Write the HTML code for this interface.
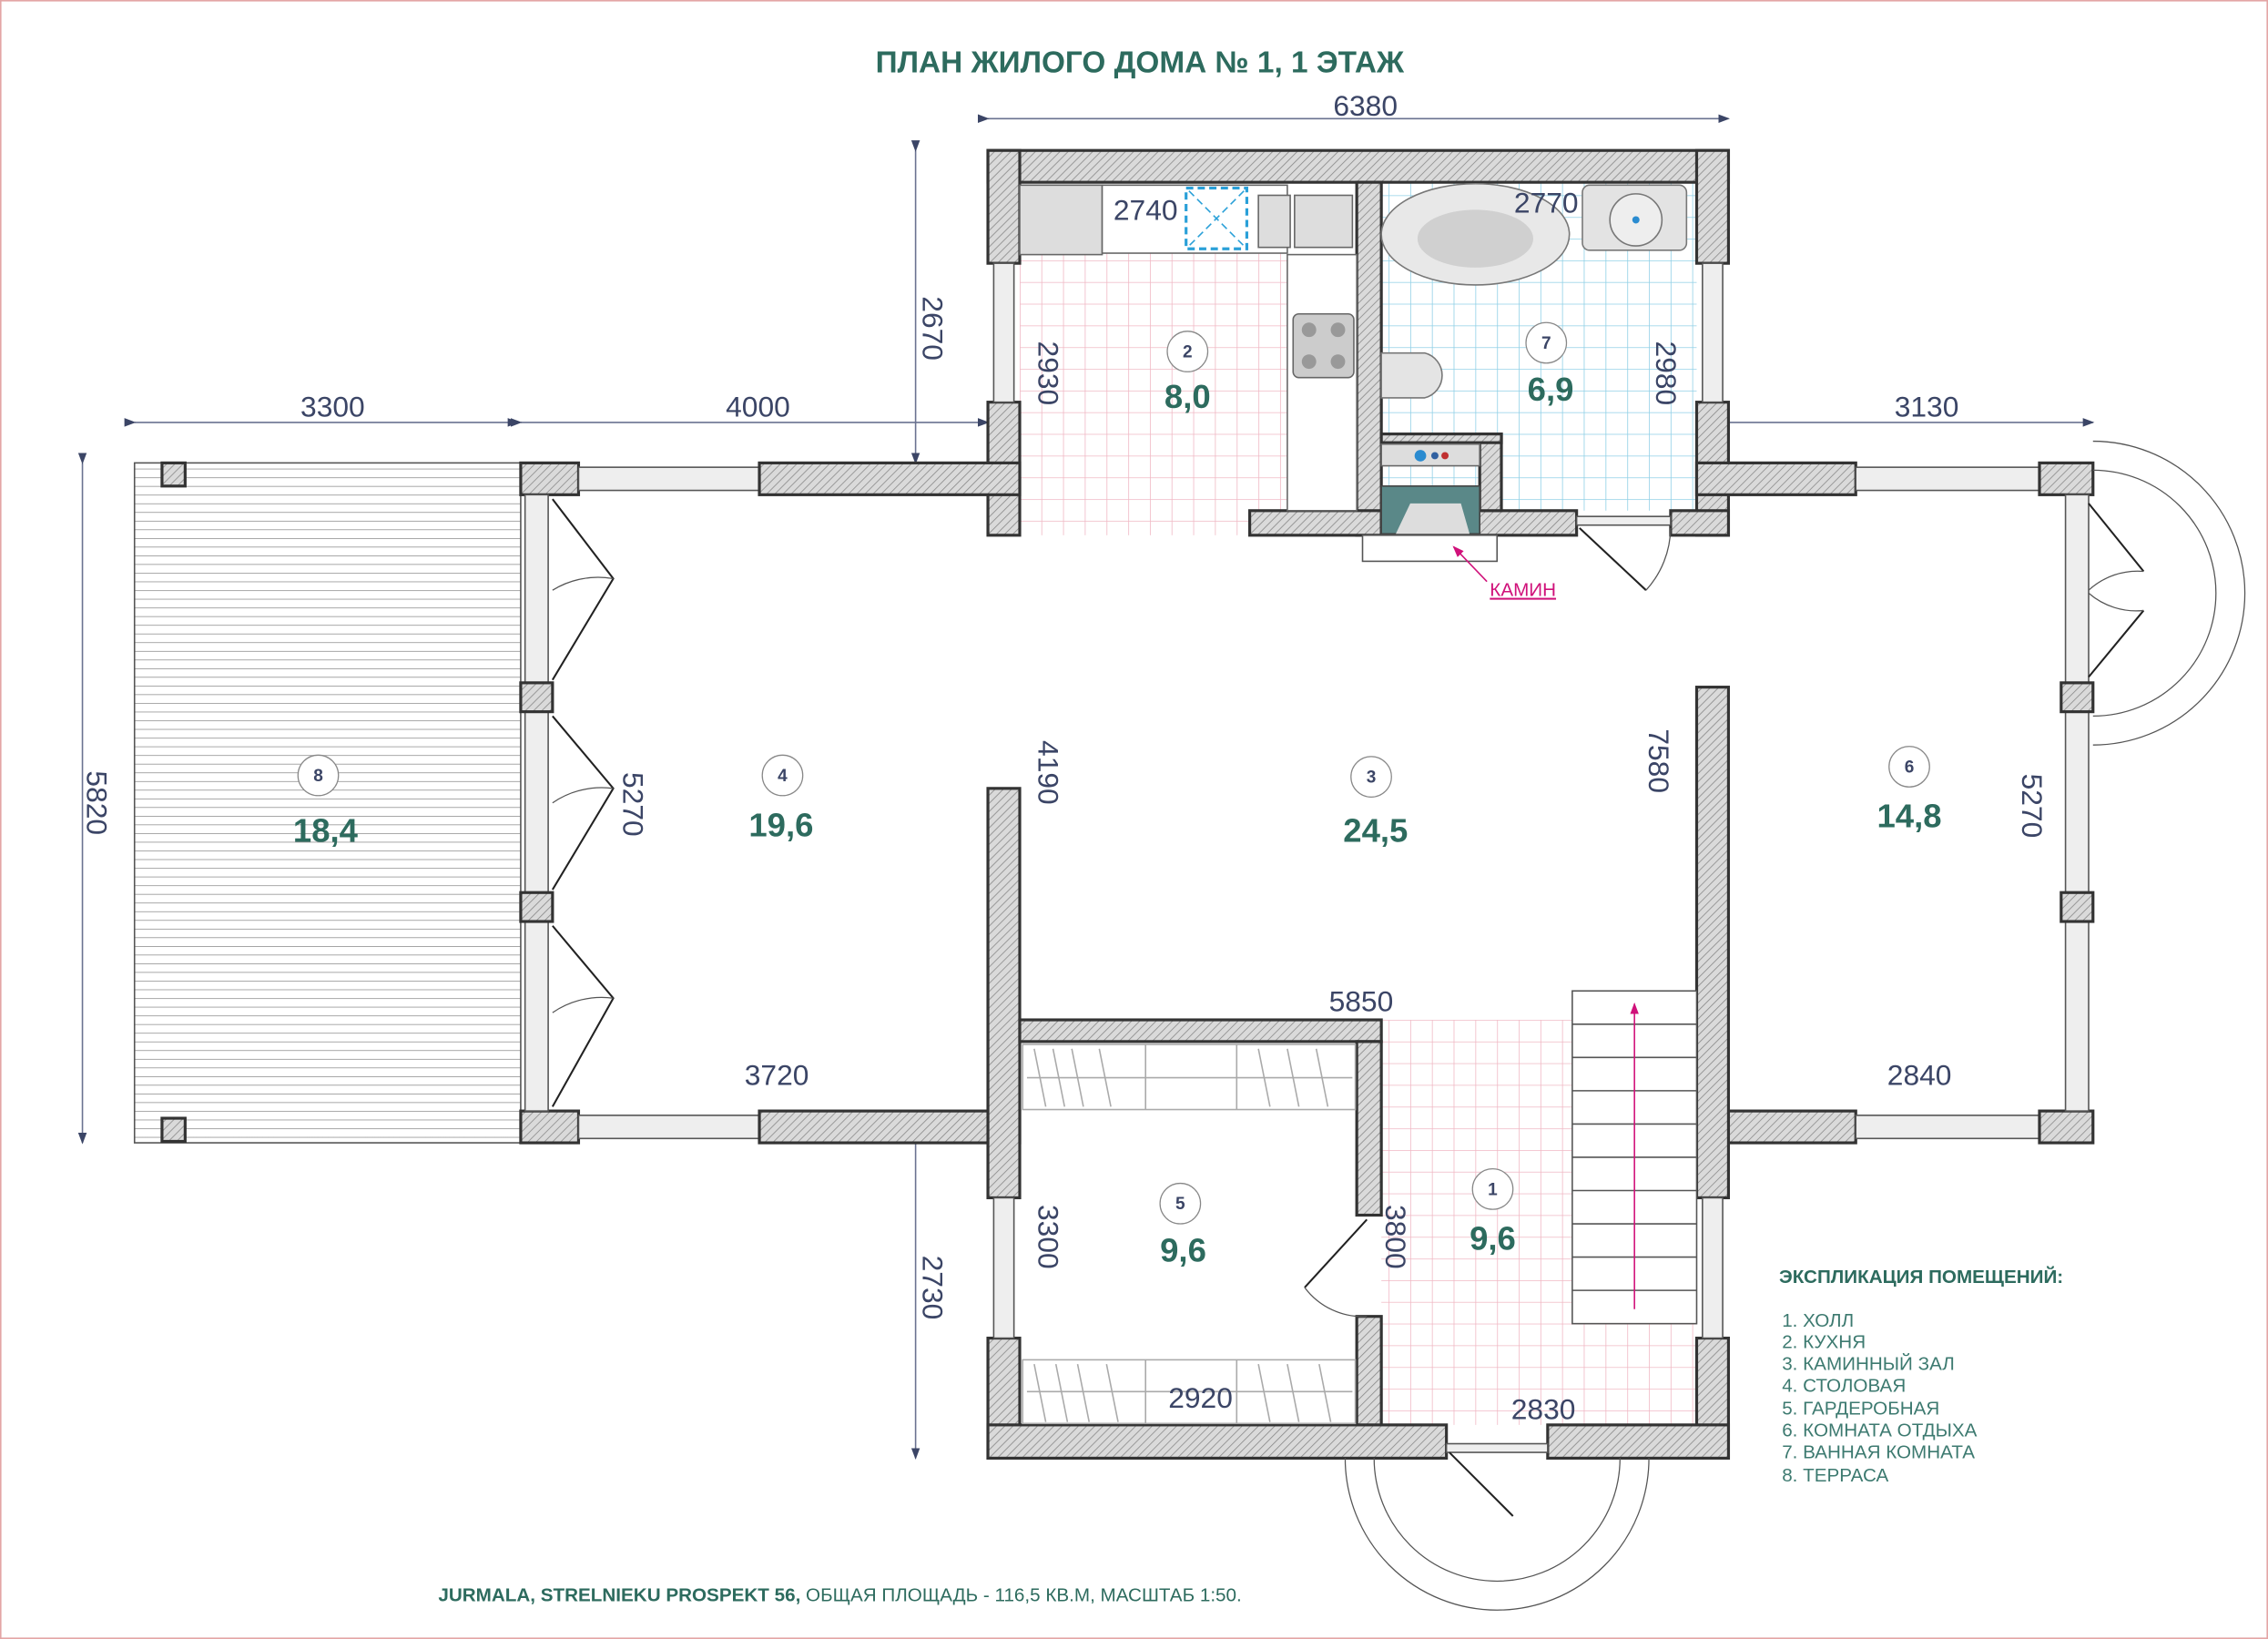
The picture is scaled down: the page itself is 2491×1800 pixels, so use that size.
<!DOCTYPE html>
<html><head><meta charset="utf-8"><style>
html,body{margin:0;padding:0;background:#fff}
svg{display:block}
text{font-family:"Liberation Sans",sans-serif}
.d{fill:#3b4566;font-size:20px;font-family:"Liberation Sans Narrow","Liberation Sans",sans-serif}
.a{fill:#2d6b5e;font-size:23px;font-weight:bold}
.n{fill:#3b4566;font-size:12px;font-weight:bold}
.w{fill:url(#h);stroke:#333;stroke-width:2}
.dl{stroke:#6a7290;stroke-width:1}
.lg{fill:#3d7a70;font-size:13px}
</style></head><body>
<svg width="2491" height="1800" viewBox="0 0 1568 1133" preserveAspectRatio="none" xmlns="http://www.w3.org/2000/svg">
<defs>
<pattern id="h" width="4" height="4" patternUnits="userSpaceOnUse" patternTransform="rotate(45)">
<rect width="4" height="4" fill="#dadada"/><line x1="0" y1="0" x2="0" y2="4" stroke="#888" stroke-width="1"/></pattern>
<pattern id="pg" width="15" height="15" patternUnits="userSpaceOnUse"><rect width="15" height="15" fill="#fff"/><path d="M0 0H15M0 0V15" stroke="#f0b8c4" stroke-width="1"/></pattern>
<pattern id="bg" width="15" height="15" patternUnits="userSpaceOnUse"><rect width="15" height="15" fill="#fff"/><path d="M0 0H15M0 0V15" stroke="#8fd0e6" stroke-width="1"/></pattern>
<pattern id="tl" width="10" height="6" patternUnits="userSpaceOnUse"><rect width="10" height="6" fill="#fff"/><path d="M0 0H10" stroke="#777" stroke-width="0.8"/></pattern>
<marker id="ar" markerWidth="8" markerHeight="8" refX="7" refY="4" orient="auto"><path d="M0 1L8 4L0 7Z" fill="#3b4566"/></marker>
<marker id="am" markerWidth="8" markerHeight="8" refX="7" refY="4" orient="auto"><path d="M0 1L8 4L0 7Z" fill="#d0117a"/></marker>
</defs>
<rect x="0.5" y="0.5" width="1567" height="1132" fill="#fff" stroke="#e3a5a5"/>
<text x="788" y="50" text-anchor="middle" style="fill:#2d6b5e;font-size:21px;font-weight:bold">ПЛАН ЖИЛОГО ДОМА № 1, 1 ЭТАЖ</text>

<rect x="705" y="175" width="185" height="195" fill="url(#pg)"/>
<rect x="955" y="126" width="218" height="227" fill="url(#bg)"/>
<rect x="955" y="705" width="218" height="280" fill="url(#pg)"/>
<rect x="93" y="320" width="267" height="470" fill="url(#tl)" stroke="#555"/>
<rect x="112" y="320" width="16" height="16" class="w"/>
<rect x="112" y="773" width="16" height="16" class="w"/>

<g class="dl" fill="none">
<line x1="683" y1="82" x2="1195" y2="82" marker-start="url(#ar)" marker-end="url(#ar)"/>
<line x1="93" y1="292" x2="358" y2="292" marker-start="url(#ar)" marker-end="url(#ar)"/>
<line x1="360" y1="292" x2="683" y2="292" marker-start="url(#ar)" marker-end="url(#ar)"/>
<line x1="1195" y1="292" x2="1447" y2="292" marker-start="url(#ar)" marker-end="url(#ar)"/>
<line x1="57" y1="320" x2="57" y2="790" marker-start="url(#ar)" marker-end="url(#ar)"/>
<line x1="633" y1="104" x2="633" y2="320" marker-start="url(#ar)" marker-end="url(#ar)"/>
<line x1="633" y1="790" x2="633" y2="1008" marker-start="url(#ar)" marker-end="url(#ar)"/>
</g>

<rect class="w" x="683" y="104" width="512" height="22"/>
<rect class="w" x="683" y="104" width="22" height="78"/>
<rect class="w" x="683" y="278" width="22" height="92"/>
<rect class="w" x="1173" y="104" width="22" height="78"/>
<rect class="w" x="1173" y="278" width="22" height="92"/>
<rect x="687" y="182" width="14" height="96" fill="#eee" stroke="#555"/>
<rect x="1177" y="182" width="14" height="96" fill="#eee" stroke="#555"/>
<rect class="w" x="938" y="126" width="17" height="244"/>
<rect class="w" x="864" y="353" width="91" height="17"/>
<rect class="w" x="955" y="353" width="135" height="17"/>
<rect class="w" x="1023" y="300" width="15" height="53"/>
<rect class="w" x="955" y="300" width="83" height="6"/>
<rect class="w" x="1155" y="353" width="40" height="17"/>
<rect class="w" x="360" y="320" width="40" height="22"/>
<rect x="400" y="323" width="125" height="16" fill="#eee" stroke="#555"/>
<rect class="w" x="525" y="320" width="180" height="22"/>
<rect class="w" x="1173" y="320" width="110" height="22"/>
<rect x="1283" y="323" width="127" height="16" fill="#eee" stroke="#555"/>
<rect class="w" x="1410" y="320" width="37" height="22"/>
<rect class="w" x="360" y="768" width="40" height="22"/>
<rect x="400" y="771" width="125" height="16" fill="#eee" stroke="#555"/>
<rect class="w" x="525" y="768" width="180" height="22"/>
<rect class="w" x="1173" y="768" width="110" height="22"/>
<rect x="1283" y="771" width="127" height="16" fill="#eee" stroke="#555"/>
<rect class="w" x="1410" y="768" width="37" height="22"/>
<rect x="363" y="342" width="16" height="426" fill="#eee" stroke="#555"/>
<rect class="w" x="360" y="472" width="22" height="20"/>
<rect class="w" x="360" y="617" width="22" height="20"/>
<rect x="1428" y="342" width="16" height="426" fill="#eee" stroke="#555"/>
<rect class="w" x="1425" y="472" width="22" height="20"/>
<rect class="w" x="1425" y="617" width="22" height="20"/>
<rect class="w" x="683" y="545" width="22" height="283"/>
<rect class="w" x="683" y="925" width="22" height="83"/>
<rect x="687" y="828" width="14" height="97" fill="#eee" stroke="#555"/>
<rect class="w" x="1173" y="475" width="22" height="353"/>
<rect class="w" x="1173" y="925" width="22" height="83"/>
<rect x="1177" y="828" width="14" height="97" fill="#eee" stroke="#555"/>
<rect class="w" x="705" y="705" width="250" height="15"/>
<rect class="w" x="938" y="720" width="17" height="120"/>
<rect class="w" x="938" y="910" width="17" height="80"/>
<rect class="w" x="683" y="985" width="317" height="23"/>
<rect class="w" x="1070" y="985" width="125" height="23"/>
<rect x="1000" y="998" width="70" height="6" fill="#eee" stroke="#555"/>
<rect x="1090" y="357" width="65" height="6" fill="#eee" stroke="#555"/>

<g fill="none" stroke="#222" stroke-width="1.3">
<path d="M382 345L424 400L382 470M382 495L424 545L382 615M382 640L424 690L382 765"/>
<path d="M1444 348L1482 395M1444 468L1482 422"/>
<path d="M1092 365L1138 408"/>
<path d="M945 843L902 890"/>
<path d="M1002 1004L1046 1048"/>
</g>
<g fill="none" stroke="#555" stroke-width="0.8">
<path d="M1447 305A105 105 0 0 1 1447 515"/>
<path d="M1447 325A85 85 0 0 1 1447 495"/>
<path d="M930 1008A105 105 0 0 0 1140 1008"/>
<path d="M950 1008A85 85 0 0 0 1120 1008"/>
<path d="M1155 365A65 65 0 0 1 1138 408"/>
<path d="M902 890A50 50 0 0 0 945 910"/>
<path d="M424 400A60 60 0 0 0 382 408M424 545A60 60 0 0 0 382 555M424 690A60 60 0 0 0 382 700"/>
<path d="M1482 395A50 50 0 0 0 1444 408M1482 422A50 50 0 0 1 1444 410"/>
</g>

<rect x="705" y="128" width="57" height="48" fill="#ddd" stroke="#666"/>
<rect x="762" y="128" width="128" height="47" fill="#fff" stroke="#666"/>
<rect x="820" y="130" width="42" height="42" fill="none" stroke="#2aa0d8" stroke-width="2" stroke-dasharray="5 3"/>
<path d="M822 132L860 170M860 132L822 170" stroke="#2aa0d8" stroke-dasharray="5 3"/>
<rect x="870" y="135" width="22" height="36" fill="#ddd" stroke="#666"/>
<rect x="895" y="135" width="40" height="36" fill="#ddd" stroke="#666"/>
<rect x="890" y="176" width="48" height="177" fill="#fff" stroke="#666"/>
<rect x="894" y="217" width="42" height="44" rx="4" fill="#ccc" stroke="#666"/>
<g fill="#999"><circle cx="905" cy="228" r="5"/><circle cx="925" cy="228" r="5"/><circle cx="905" cy="250" r="5"/><circle cx="925" cy="250" r="5"/></g>
<ellipse cx="1020" cy="162" rx="65" ry="35" fill="#e8e8e8" stroke="#777"/>
<ellipse cx="1020" cy="165" rx="40" ry="20" fill="#d0d0d0"/>
<rect x="1094" y="128" width="72" height="45" rx="5" fill="#e3e3e3" stroke="#777"/>
<circle cx="1131" cy="152" r="18" fill="#eee" stroke="#777"/>
<circle cx="1131" cy="152" r="2.5" fill="#2a8bd0"/>
<path d="M955 244H985A16 16 0 0 1 985 275H955Z" fill="#e4e4e4" stroke="#777"/>
<rect x="955" y="307" width="68" height="15" fill="#ddd" stroke="#666"/>
<circle cx="982" cy="315" r="4" fill="#2a8bd0"/><circle cx="992" cy="315" r="2.5" fill="#3060a0"/><circle cx="999" cy="315" r="2.5" fill="#c03030"/>
<rect x="955" y="336" width="68" height="33" fill="#5a8888" stroke="#444"/>
<path d="M965 369L975 348H1010L1016 369Z" fill="#ddd"/>
<rect x="942" y="370" width="93" height="18" fill="#fff" stroke="#555"/>
<line x1="1028" y1="402" x2="1005" y2="378" stroke="#d0117a" marker-end="url(#am)"/>
<text x="1030" y="412" style="fill:#d0117a;font-size:13px;text-decoration:underline">КАМИН</text>
<g fill="none" stroke="#aaa">
<rect x="707" y="722" width="230" height="45"/><rect x="707" y="940" width="230" height="44"/>
<path d="M710 745H935M710 962H935M792 722V767M855 722V767M792 940V984M855 940V984"/>
<path d="M715 725l8 40M728 725l8 40M741 725l8 40M760 725l8 40M870 725l8 40M890 725l8 40M910 725l8 40M715 943l8 40M730 943l8 40M745 943l8 40M765 943l8 40M870 943l8 40M890 943l8 40M912 943l8 40"/>
</g>
<rect x="1087" y="685" width="86" height="230" fill="#fff" stroke="#555"/>
<g stroke="#555"><path d="M1087 708H1173M1087 731H1173M1087 754H1173M1087 777H1173M1087 800H1173M1087 823H1173M1087 846H1173M1087 869H1173M1087 892H1173"/></g>
<line x1="1130" y1="905" x2="1130" y2="694" stroke="#d0117a" marker-end="url(#am)"/>

<g class="d">
<text x="944" y="80" text-anchor="middle">6380</text>
<text x="230" y="288" text-anchor="middle">3300</text>
<text x="524" y="288" text-anchor="middle">4000</text>
<text x="1332" y="288" text-anchor="middle">3130</text>
<text x="792" y="152" text-anchor="middle">2740</text>
<text x="1069" y="147" text-anchor="middle">2770</text>
<text x="941" y="699" text-anchor="middle">5850</text>
<text x="537" y="750" text-anchor="middle">3720</text>
<text x="1327" y="750" text-anchor="middle">2840</text>
<text x="830" y="973" text-anchor="middle">2920</text>
<text x="1067" y="981" text-anchor="middle">2830</text>
<text transform="translate(60,555) rotate(90)" text-anchor="middle">5820</text>
<text transform="translate(638,227) rotate(90)" text-anchor="middle">2670</text>
<text transform="translate(638,890) rotate(90)" text-anchor="middle">2730</text>
<text transform="translate(718,258) rotate(90)" text-anchor="middle">2930</text>
<text transform="translate(1145,258) rotate(90)" text-anchor="middle">2980</text>
<text transform="translate(718,534) rotate(90)" text-anchor="middle">4190</text>
<text transform="translate(1140,526) rotate(90)" text-anchor="middle">7580</text>
<text transform="translate(431,556) rotate(90)" text-anchor="middle">5270</text>
<text transform="translate(1398,557) rotate(90)" text-anchor="middle">5270</text>
<text transform="translate(718,855) rotate(90)" text-anchor="middle">3300</text>
<text transform="translate(958,855) rotate(90)" text-anchor="middle">3800</text>
</g>

<g fill="#fff" stroke="#888" stroke-width="0.8">
<circle cx="821" cy="243" r="14"/><circle cx="1069" cy="237" r="14"/><circle cx="220" cy="536" r="14"/>
<circle cx="541" cy="536" r="14"/><circle cx="948" cy="537" r="14"/><circle cx="1320" cy="530" r="14"/>
<circle cx="816" cy="832" r="14"/><circle cx="1032" cy="822" r="14"/>
</g>
<g class="n" text-anchor="middle">
<text x="821" y="247">2</text><text x="1069" y="241">7</text><text x="220" y="540">8</text>
<text x="541" y="540">4</text><text x="948" y="541">3</text><text x="1320" y="534">6</text>
<text x="816" y="836">5</text><text x="1032" y="826">1</text>
</g>
<g class="a" text-anchor="middle">
<text x="821" y="282">8,0</text><text x="1072" y="277">6,9</text><text x="225" y="582">18,4</text>
<text x="540" y="578">19,6</text><text x="951" y="582">24,5</text><text x="1320" y="572">14,8</text>
<text x="818" y="872">9,6</text><text x="1032" y="864">9,6</text>
</g>

<text x="1230" y="887" style="fill:#2d6b5e;font-size:13px;font-weight:bold">ЭКСПЛИКАЦИЯ ПОМЕЩЕНИЙ:</text>
<g class="lg">
<text x="1232" y="917">1.  ХОЛЛ</text>
<text x="1232" y="932">2.  КУХНЯ</text>
<text x="1232" y="947">3.  КАМИННЫЙ ЗАЛ</text>
<text x="1232" y="962">4.  СТОЛОВАЯ</text>
<text x="1232" y="978">5.  ГАРДЕРОБНАЯ</text>
<text x="1232" y="993">6.  КОМНАТА ОТДЫХА</text>
<text x="1232" y="1008">7.  ВАННАЯ КОМНАТА</text>
<text x="1232" y="1024">8.  ТЕРРАСА</text>
</g>
<text x="303" y="1107" style="fill:#2d6b5e;font-size:13px"><tspan font-weight="bold">JURMALA, STRELNIEKU PROSPEKT 56,</tspan> ОБЩАЯ ПЛОЩАДЬ - 116,5 КВ.М, МАСШТАБ 1:50.</text>
</svg>
</body></html>
